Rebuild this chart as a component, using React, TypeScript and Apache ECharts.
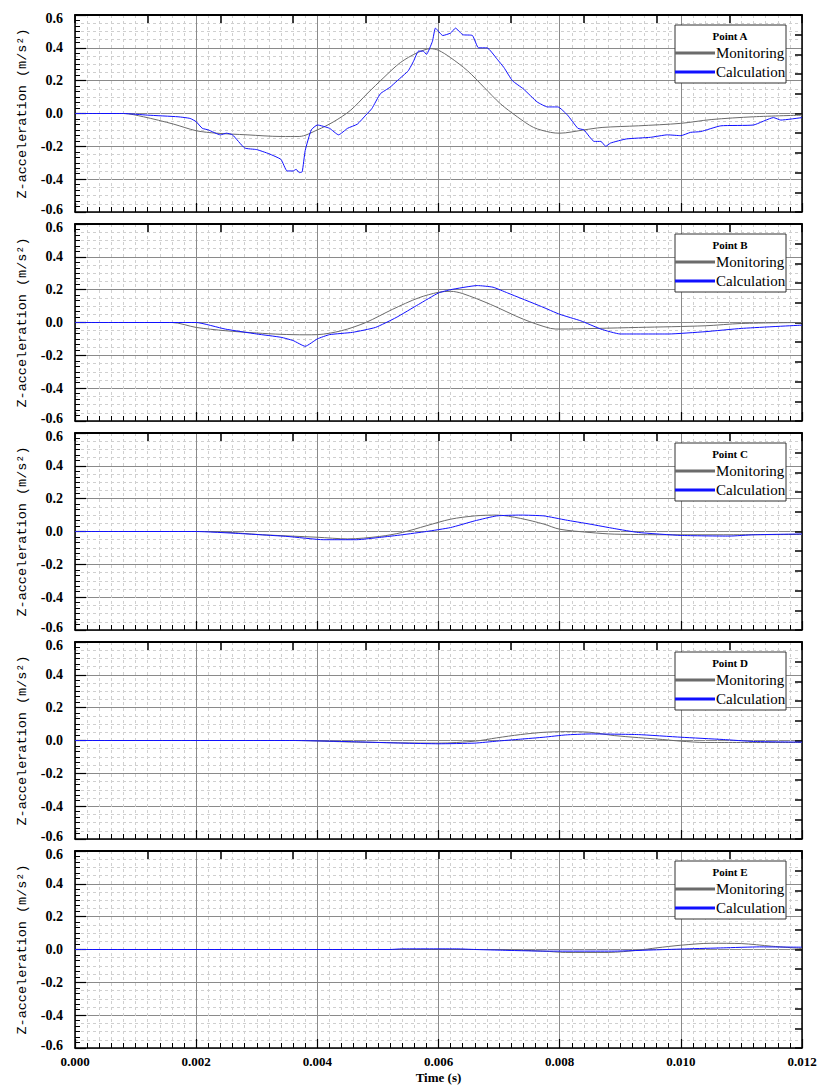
import React, { useEffect, useRef } from "react";
import * as echarts from "echarts";

// ---- data: [time (s), Z-acceleration (m/s²)] ----
const aMonitoring: number[][] = [
  [0, 0], [0.0008, 0], [0.00113, -0.02], [0.00163, -0.065], [0.002, -0.105], [0.00234, -0.12],
  [0.00284, -0.13], [0.0034, -0.14], [0.0037, -0.14], [0.004, -0.1], [0.00427, -0.05],
  [0.00455, 0.02], [0.00482, 0.12], [0.0051, 0.22], [0.00537, 0.31], [0.00565, 0.37],
  [0.00587, 0.395], [0.006, 0.385], [0.0062, 0.34], [0.00648, 0.26], [0.00675, 0.16],
  [0.00702, 0.06], [0.0073, -0.02], [0.00757, -0.085], [0.00785, -0.115], [0.008, -0.12],
  [0.0084, -0.1], [0.0087, -0.085], [0.0093, -0.075], [0.01, -0.06], [0.0105, -0.037],
  [0.0112, -0.02], [0.012, -0.01],
];
const aCalculation: number[][] = [
  [0, 0], [0.0008, 0], [0.0012, -0.01], [0.0017, -0.02], [0.0019, -0.03], [0.002, -0.05],
  [0.0021, -0.09], [0.0022, -0.1], [0.0024, -0.13], [0.0025, -0.12], [0.0026, -0.13],
  [0.0028, -0.21], [0.003, -0.22], [0.0032, -0.245], [0.0034, -0.28], [0.0035, -0.35],
  [0.0036, -0.35], [0.00365, -0.34], [0.0037, -0.36], [0.00375, -0.355], [0.0038, -0.225],
  [0.0039, -0.1], [0.004, -0.07], [0.0042, -0.09], [0.00435, -0.13], [0.0045, -0.09],
  [0.00466, -0.065], [0.0048, -0.01], [0.0049, 0.03], [0.00504, 0.12], [0.0052, 0.16],
  [0.00532, 0.2], [0.0055, 0.26], [0.00559, 0.32], [0.00567, 0.38], [0.00575, 0.38],
  [0.0058, 0.36], [0.0059, 0.44], [0.00595, 0.52], [0.00607, 0.475], [0.0062, 0.49],
  [0.00628, 0.52], [0.0064, 0.48], [0.00656, 0.475], [0.00666, 0.4], [0.0068, 0.4],
  [0.00697, 0.33], [0.00708, 0.28], [0.00722, 0.2], [0.0074, 0.15], [0.00763, 0.07],
  [0.0078, 0.04], [0.00797, 0.04], [0.00813, -0.01], [0.0083, -0.09], [0.0084, -0.1],
  [0.00857, -0.17], [0.00868, -0.17], [0.00876, -0.2], [0.00884, -0.18], [0.0091, -0.155],
  [0.0095, -0.145], [0.00978, -0.13], [0.01, -0.135], [0.01016, -0.115], [0.01033, -0.11],
  [0.01066, -0.075], [0.0112, -0.07], [0.01153, -0.025], [0.01165, -0.04], [0.012, -0.025],
];
const bMonitoring: number[][] = [
  [0, 0], [0.0016, 0], [0.002, -0.03], [0.00248, -0.05], [0.003, -0.064], [0.0034, -0.072],
  [0.0038, -0.075], [0.004, -0.074], [0.0044, -0.05], [0.0048, 0], [0.00524, 0.08],
  [0.00567, 0.15], [0.006, 0.184], [0.0062, 0.19], [0.0064, 0.176], [0.00686, 0.11],
  [0.0074, 0.02], [0.00785, -0.036], [0.008, -0.04], [0.0086, -0.036], [0.0093, -0.03],
  [0.0104, -0.02], [0.011, -0.006], [0.012, 0],
];
const bCalculation: number[][] = [
  [0, 0], [0.002, 0], [0.00248, -0.04], [0.003, -0.07], [0.0034, -0.09], [0.0036, -0.11],
  [0.0038, -0.145], [0.004, -0.1], [0.0042, -0.074], [0.00458, -0.06], [0.00496, -0.03],
  [0.0053, 0.03], [0.00567, 0.11], [0.006, 0.18], [0.0062, 0.2], [0.00664, 0.225],
  [0.0069, 0.215], [0.00714, 0.18], [0.0077, 0.097], [0.008, 0.05], [0.00835, 0.01],
  [0.00868, -0.04], [0.009, -0.07], [0.0098, -0.07], [0.0104, -0.056], [0.011, -0.036],
  [0.012, -0.016],
];
const cMonitoring: number[][] = [
  [0, 0], [0.0022, 0], [0.0031, -0.02], [0.004, -0.035], [0.0045, -0.045], [0.00503, -0.03],
  [0.0054, -0.006], [0.0058, 0.035], [0.0062, 0.075], [0.0066, 0.095], [0.00696, 0.1],
  [0.00735, 0.08], [0.00774, 0.045], [0.008, 0.014], [0.0085, -0.006], [0.0089, -0.016],
  [0.01, -0.02], [0.0107, -0.02], [0.012, -0.018],
];
const cCalculation: number[][] = [
  [0, 0], [0.002, 0], [0.0027, -0.012], [0.0035, -0.03], [0.0041, -0.05], [0.00465, -0.05],
  [0.00503, -0.036], [0.0054, -0.02], [0.0058, 0], [0.0062, 0.024], [0.0066, 0.065],
  [0.00696, 0.095], [0.00735, 0.1], [0.00774, 0.095], [0.0081, 0.07], [0.0085, 0.045],
  [0.0089, 0.018], [0.0093, -0.006], [0.01, -0.024], [0.0108, -0.028], [0.0112, -0.02],
  [0.012, -0.015],
];
const dMonitoring: number[][] = [
  [0, 0], [0.0036, 0], [0.00465, -0.01], [0.006, -0.016], [0.0066, -0.004], [0.00696, 0.016],
  [0.00735, 0.036], [0.00774, 0.05], [0.0081, 0.054], [0.0085, 0.05], [0.0089, 0.03],
  [0.0097, 0.006], [0.01, -0.004], [0.0104, -0.012], [0.012, -0.012],
];
const dCalculation: number[][] = [
  [0, 0], [0.0036, 0], [0.00465, -0.008], [0.0054, -0.016], [0.006, -0.02], [0.0066, -0.016],
  [0.00696, -0.004], [0.00735, 0.008], [0.00774, 0.02], [0.0081, 0.034], [0.0085, 0.04],
  [0.0093, 0.036], [0.01, 0.02], [0.0107, 0.006], [0.0112, -0.006], [0.012, -0.01],
];
const eMonitoring: number[][] = [
  [0, 0], [0.0069, 0], [0.00774, -0.01], [0.0081, -0.018], [0.0088, -0.018], [0.0093, -0.004],
  [0.0096, 0.01], [0.01, 0.026], [0.0105, 0.038], [0.011, 0.036], [0.0115, 0.02], [0.012, 0.006],
];
const eCalculation: number[][] = [
  [0, 0], [0.0052, 0], [0.0054, 0.004], [0.0063, 0.004], [0.0066, 0], [0.007, -0.004],
  [0.00774, -0.01], [0.0089, -0.01], [0.0096, -0.002], [0.0101, 0.004], [0.0107, 0.01],
  [0.0113, 0.016], [0.012, 0.014],
];

const panelTitles = ["Point A", "Point B", "Point C", "Point D", "Point E"];
const monitoringSets = [aMonitoring, bMonitoring, cMonitoring, dMonitoring, eMonitoring];
const calculationSets = [aCalculation, bCalculation, cCalculation, dCalculation, eCalculation];
const seriesNames = ["Monitoring", "Calculation"];
const xAxisTitle = "Time (s)";
const yAxisTitle = "Z-acceleration (m/s²)";

// ---- layout ----
const W = 820;
const H = 1086;
const LEFT = 75;
const RIGHT_EDGE = 802;
const FIRST_TOP = 15;
const PANEL_H = 197;
const STEP = 209;
const SERIF = "'Liberation Serif', 'Times New Roman', serif";
const MON_COLOR = "#6b6b6b";
const CALC_COLOR = "#1010ff";

export default function App() {
  const ref = useRef<HTMLDivElement>(null);

  useEffect(() => {
    document.body.style.margin = "0";
    if (!ref.current) return;
    const chart = echarts.init(ref.current, null, { renderer: "svg" });

    const grids: any[] = [];
    const xAxes: any[] = [];
    const yAxes: any[] = [];
    const series: any[] = [];
    const graphics: any[] = [];

    const labelFont = { fontFamily: SERIF, fontWeight: "bold" as const, fontSize: 14, color: "#000" };

    for (let i = 0; i < 5; i++) {
      const top = FIRST_TOP + STEP * i;
      const last = i === 4;
      grids.push({ left: LEFT, width: RIGHT_EDGE - LEFT, top, height: PANEL_H });

      // bottom x axis (main)
      xAxes.push({
        type: "value",
        gridIndex: i,
        position: "bottom",
        min: 0,
        max: 0.012,
        interval: 0.002,
        axisLine: { show: true, onZero: false, lineStyle: { color: "#000", width: 1.5 } },
        axisTick: { show: true, inside: true, length: 9, lineStyle: { color: "#000", width: 1.2 } },
        minorTick: { show: true, splitNumber: 10, length: 5, lineStyle: { color: "#000", width: 1 } },
        splitLine: { show: true, lineStyle: { color: "#8a8a8a", width: 1 } },
        minorSplitLine: { show: true, lineStyle: { color: "#cfcfcf", width: 1, type: [3, 3] } },
        axisLabel: {
          show: last,
          formatter: (v: number) => v.toFixed(3),
          fontFamily: SERIF,
          fontWeight: "bold",
          fontSize: 13,
          color: "#000",
          margin: 7,
        },
        name: last ? xAxisTitle : "",
        nameLocation: "middle",
        nameGap: 23,
        nameTextStyle: { fontFamily: SERIF, fontWeight: "bold", fontSize: 13, color: "#000" },
      });
      // top x axis (frame ticks)
      xAxes.push({
        type: "value",
        gridIndex: i,
        position: "top",
        min: 0,
        max: 0.012,
        interval: 0.0012,
        axisLine: { show: true, onZero: false, lineStyle: { color: "#000", width: 2 } },
        axisTick: { show: true, inside: true, length: 8, lineStyle: { color: "#000", width: 1.5 } },
        axisLabel: { show: false },
        splitLine: { show: false },
      });

      // left y axis (main)
      yAxes.push({
        type: "value",
        gridIndex: i,
        position: "left",
        min: -0.6,
        max: 0.6,
        interval: 0.2,
        axisLine: { show: true, onZero: false, lineStyle: { color: "#000", width: 1.5 } },
        axisTick: { show: true, inside: true, length: 11, lineStyle: { color: "#000", width: 1.2 } },
        minorTick: { show: true, splitNumber: 6, length: 5, lineStyle: { color: "#000", width: 1 } },
        splitLine: { show: true, lineStyle: { color: "#8a8a8a", width: 1 } },
        minorSplitLine: { show: false },
        axisLabel: {
          formatter: (v: number) => {
            const s = v.toFixed(1);
            if (v < -0.59) return `{lo|${s}}`;
            if (v > 0.59) return `{hi|${s}}`;
            return `{n|${s}}`;
          },
          margin: 12,
          rich: {
            n: { ...labelFont },
            lo: { ...labelFont, padding: [0, 0, 6, 0] },
            hi: { ...labelFont, padding: [6, 0, 0, 0] },
          },
        },
        name: yAxisTitle,
        nameLocation: "middle",
        nameGap: 46,
        nameTextStyle: { fontFamily: "'Liberation Mono', monospace", fontSize: 13.5, color: "#000" },
      });
      // right y axis (frame ticks)
      yAxes.push({
        type: "value",
        gridIndex: i,
        position: "right",
        min: -0.6,
        max: 0.6,
        interval: 0.12,
        axisLine: { show: true, onZero: false, lineStyle: { color: "#000", width: 1.5 } },
        axisTick: { show: true, inside: true, length: 7, lineStyle: { color: "#000", width: 1.5 } },
        axisLabel: { show: false },
        splitLine: { show: false },
      });
      // minor dashed horizontal grid
      yAxes.push({
        type: "value",
        gridIndex: i,
        position: "left",
        min: -0.6,
        max: 0.6,
        interval: 0.2,
        axisLine: { show: false },
        axisTick: { show: false },
        axisLabel: { show: false },
        splitLine: { show: false },
        minorTick: { show: false, splitNumber: 4 },
        minorSplitLine: { show: true, lineStyle: { color: "#cfcfcf", width: 1, type: [3, 3] } },
      });

      series.push({
        name: seriesNames[0],
        type: "line",
        xAxisIndex: 2 * i,
        yAxisIndex: 3 * i,
        data: monitoringSets[i],
        showSymbol: false,
        symbol: "none",
        smooth: 0.3,
        lineStyle: { color: MON_COLOR, width: 1 },
        z: 3,
      });
      series.push({
        name: seriesNames[1],
        type: "line",
        xAxisIndex: 2 * i,
        yAxisIndex: 3 * i,
        data: calculationSets[i],
        showSymbol: false,
        symbol: "none",
        smooth: 0.15,
        lineStyle: { color: CALC_COLOR, width: 1 },
        z: 4,
      });

      // legend box
      const bx = 675;
      const bw = 111;
      const by = top + 10;
      graphics.push({
        type: "rect",
        z: 100,
        shape: { x: bx, y: by, width: bw, height: 58 },
        style: { fill: "#fff", stroke: "#333", lineWidth: 1 },
      });
      graphics.push({
        type: "text",
        z: 101,
        x: bx + 55,
        y: by + 11,
        style: {
          text: panelTitles[i],
          font: `bold 11px ${SERIF}`,
          fill: "#000",
          textAlign: "center",
          textVerticalAlign: "middle",
        },
      });
      const rows = [
        { label: seriesNames[0], color: MON_COLOR, y: by + 28 },
        { label: seriesNames[1], color: CALC_COLOR, y: by + 47 },
      ];
      rows.forEach((r) => {
        graphics.push({
          type: "line",
          z: 101,
          shape: { x1: bx, y1: r.y, x2: bx + 40, y2: r.y },
          style: { stroke: r.color, lineWidth: 3 },
        });
        graphics.push({
          type: "text",
          z: 101,
          x: bx + 41,
          y: r.y,
          style: {
            text: r.label,
            font: `15px ${SERIF}`,
            fill: "#000",
            textAlign: "left",
            textVerticalAlign: "middle",
          },
        });
      });
    }

    chart.setOption({
      animation: false,
      backgroundColor: "#fff",
      grid: grids,
      xAxis: xAxes,
      yAxis: yAxes,
      series,
      graphic: graphics,
    });

    return () => chart.dispose();
  }, []);

  return <div ref={ref} style={{ width: W, height: H }} />;
}
